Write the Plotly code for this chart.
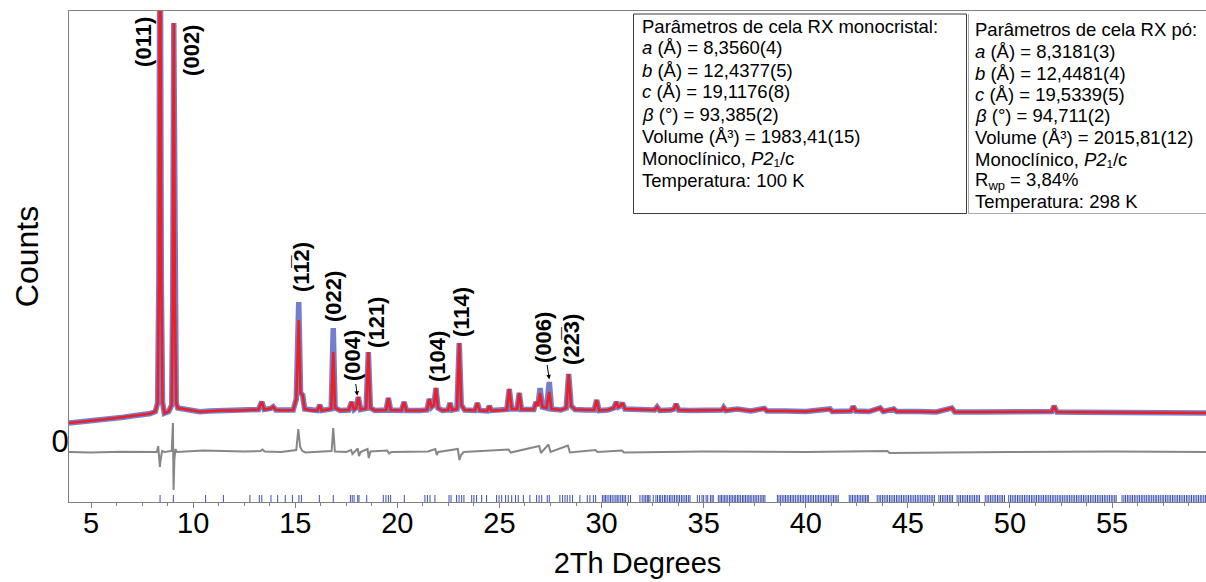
import plotly.graph_objects as go

# ---------------- data ----------------
two_theta = [3.92, 4.5, 5.0, 5.6, 6.0, 6.6, 7.0, 7.5, 7.9, 8.15, 8.26, 8.32, 8.38, 8.44, 8.50, 8.59,
             8.80, 8.95, 9.00, 9.05, 9.11, 9.17, 9.25, 9.6, 10.0, 10.33, 10.8, 11.5, 12.2, 12.8,
             13.2, 13.36, 13.48, 13.8, 13.92, 14.05, 14.5, 14.9, 15.05, 15.17, 15.26, 15.36, 15.46,
             15.8, 16.08, 16.2, 16.3, 16.76, 16.86, 16.95, 17.2, 17.62, 17.76, 17.88, 17.98, 18.09,
             18.2, 18.47, 18.58, 18.68, 18.9, 19.45, 19.56, 19.67, 20.2, 20.33, 20.44, 21.1, 21.45,
             21.56, 21.68, 21.79, 21.89, 21.99, 22.2, 22.48, 22.58, 22.68, 22.92, 23.03, 23.13, 23.3,
             23.8, 23.92, 24.03, 24.4, 24.5, 24.6, 25.0, 25.36, 25.48, 25.6, 25.86, 25.97, 26.08,
             26.68, 26.79, 26.88, 26.99, 27.1, 27.3, 27.44, 27.55, 28.0, 28.27, 28.39, 28.51, 28.7,
             29.2, 29.64, 29.76, 29.88, 30.3, 30.6, 30.72, 30.82, 30.92, 31.02, 31.15, 31.6, 32.0,
             32.6, 32.72, 32.85, 33.4, 33.55, 33.65, 33.78, 34.3, 35.0, 35.9, 35.98, 36.08, 36.65,
             37.3, 37.97, 38.1, 39.0, 40.0, 41.19, 41.3, 42.2, 42.32, 42.45, 43.1, 43.64, 43.8,
             44.31, 44.45, 45.5, 46.4, 47.15, 47.3, 48.5, 49.5, 50.5, 51.5, 52.05, 52.16, 52.3,
             53.5, 54.5, 55.5, 56.5, 57.5, 58.5, 59.6]
calc_counts = [1800, 1900, 2050, 2150, 2250, 2380, 2500, 2620, 2750, 2950, 3800, 16000, 60000, 16000, 3900, 2780,
               2950, 3600, 14000, 41800, 13000, 3800, 3300, 3150, 3050, 2930, 3000, 3050, 3050, 3080,
               3150, 3930, 3150, 3250, 3430, 3100, 3050, 3100, 4200, 12100, 4800, 4600, 3200,
               3050, 3050, 3600, 3050, 3200, 8900, 3300, 3050, 3100, 3900, 3150, 3300, 4400,
               3150, 3250, 8900, 3300, 3050, 3100, 4300, 3100, 3050, 3900, 3050, 3050, 3100,
               4200, 3400, 3600, 5300, 3300, 3050, 3100, 3800, 3100, 3200, 9800, 3600, 3100,
               3050, 3800, 3050, 3000, 3500, 3050, 3050, 3150, 5200, 3200, 3200, 4800, 3150,
               3150, 3900, 3500, 4800, 3400, 3300, 4900, 3200, 3100, 3300, 6700, 3500, 3150,
               3100, 3100, 4100, 3050, 3100, 3300, 3900, 3400, 3500, 3800, 3200, 3150, 3100,
               3100, 3400, 3050, 3100, 3200, 3700, 3100, 3050, 3050, 3100, 3350, 3050, 3200,
               3000, 3250, 3000, 3000, 2950, 3200, 2950, 3000, 3450, 3000, 2950, 3300, 2950,
               3200, 2950, 2950, 2900, 3300, 2900, 2900, 2900, 2900, 2880, 2950, 3500, 2900,
               2880, 2870, 2850, 2850, 2840, 2830, 2800]
# observed intensities that stand above the calculated profile
obs_peak_2theta = [15.17, 16.86, 26.99, 27.44]
obs_peak_counts = [13900, 11300, 5300, 5900]

diff_2theta = [3.92, 5.0, 6.5, 7.8, 8.22, 8.29, 8.33, 8.37, 8.42, 8.48, 8.6, 8.95, 9.01, 9.04, 9.08,
               9.13, 9.2, 9.6, 10.5, 11.5, 12.5, 13.3, 13.4, 13.5, 14.3, 15.05, 15.15, 15.24, 15.35,
               15.5, 16.2, 16.78, 16.86, 16.94, 17.5, 17.74, 17.8, 18.06, 18.12, 18.2, 18.54, 18.6,
               18.68, 19.5, 19.6, 19.7, 21.5, 21.86, 21.93, 22.0, 22.96, 23.04, 23.12, 23.25, 25.45,
               25.55, 26.95, 27.03, 27.4, 27.5, 28.35, 28.45, 29.7, 29.8, 31.0, 31.1, 35.0, 40.0,
               44.0, 44.1, 50.0, 55.0, 59.6]
diff_counts = [-1100, -1150, -1080, -1050, -1100, -500, -1900, -2600, -1700, -1000, -1100, -1000, 1800, -4900, -1900,
               -800, -1100, -1050, -950, -1000, -1050, -1000, -850, -1050, -1100, -900, 1200, -600, -1000,
               -1150, -1050, -1000, 1300, -1050, -1100, -900, -1300, -750, -1500, -1100, -800, -1700,
               -1050, -950, -1250, -1100, -1050, -800, -1400, -1100, -800, -1900, -1400, -1100, -850,
               -1150, -500, -1200, -350, -1100, -450, -1150, -900, -1100, -950, -1150, -1050, -1100,
               -1000, -1200, -1100, -1050, -1100]

hkl_positions = [
    8.38, 9.03, 10.61, 11.48, 12.78, 13.24, 13.36, 13.81, 14.14, 14.51, 14.86, 15.18, 15.30, 16.18,
    16.86, 17.70, 17.79, 17.88, 18.06, 18.12, 18.50, 19.31, 19.44, 19.56, 19.67, 20.34, 21.35, 21.47,
    21.60, 21.84, 22.53, 22.63, 22.90, 23.02, 23.15, 23.26, 23.64, 23.75, 23.88, 24.13, 24.37, 24.86,
    24.98, 25.11, 25.30, 25.43, 25.60, 25.79, 25.92, 26.17, 26.49, 26.82, 26.94, 27.07, 27.34, 27.44,
    27.96, 28.09, 28.21, 28.32, 28.45, 28.58, 28.94, 29.30, 29.43, 29.60, 29.71, 30.04, 30.12, 30.19,
    30.27, 30.36, 30.44, 30.52, 30.61, 30.70, 30.77, 30.85, 30.94, 31.02, 31.10, 31.18, 31.31, 31.42,
    31.88, 31.99, 32.08, 32.16, 32.24, 32.29, 32.37, 32.53,
    32.66, 32.74, 32.83, 32.90, 32.99, 33.08, 33.15, 33.24, 33.33, 33.40, 33.49, 33.57, 33.66, 33.74,
    33.82, 33.91, 33.99, 34.08, 34.16, 34.25, 34.33,
    34.69, 34.80, 34.92, 35.00, 35.12, 35.20, 35.33, 35.41, 35.47,
    35.72, 35.80, 35.87, 35.95, 36.03, 36.10, 36.18, 36.27, 36.34, 36.42, 36.50, 36.57, 36.66, 36.73,
    36.81, 36.90, 36.97, 37.05, 37.13, 37.21, 37.28, 37.36, 37.45, 37.52, 37.60, 37.68, 37.77, 37.85,
    37.92, 38.00,
    38.61, 38.69, 38.77, 38.85, 38.93, 39.01, 39.09, 39.17, 39.25, 39.33, 39.41, 39.49, 39.58, 39.66,
    39.74, 39.82, 39.90, 39.98, 40.06, 40.14, 40.22, 40.30, 40.38, 40.47, 40.55, 40.63, 40.71, 40.79,
    40.87, 40.95, 41.03, 41.11, 41.19, 41.28, 41.36, 41.44, 41.52, 41.59,
    42.13, 42.21, 42.29, 42.37, 42.45, 42.53, 42.61, 42.69, 42.77, 42.85, 42.93, 43.01, 43.06,
    43.50, 43.59, 43.67, 43.76, 43.84, 43.93, 44.01, 44.10, 44.18, 44.27, 44.35, 44.44, 44.52, 44.61,
    44.69, 44.78, 44.86, 44.95, 45.03, 45.12, 45.20, 45.29, 45.37, 45.46, 45.54, 45.63, 45.71, 45.80,
    45.88, 45.97, 46.05, 46.14, 46.22, 46.30,
    46.52, 46.60, 46.69, 46.77, 46.86, 46.94, 47.03, 47.11, 47.19,
    47.41, 47.50, 47.58, 47.67, 47.75, 47.84, 47.92, 48.01, 48.09, 48.18, 48.26, 48.35, 48.43, 48.51,
    48.79, 48.88, 48.96, 49.05, 49.13, 49.22, 49.30, 49.39, 49.47, 49.56, 49.64, 49.73,
    49.94, 50.03, 50.11, 50.20, 50.28, 50.37, 50.45, 50.54, 50.62, 50.71, 50.79, 50.88, 50.96, 51.05,
    51.13, 51.22, 51.30, 51.39, 51.47, 51.56, 51.64, 51.73, 51.81, 51.90, 51.98, 52.07, 52.15, 52.24,
    52.32, 52.41, 52.49, 52.58, 52.66, 52.75, 52.83, 52.92, 53.00, 53.09, 53.17, 53.26, 53.34, 53.43,
    53.51, 53.60, 53.68, 53.77, 53.85, 53.94, 54.02, 54.11, 54.19, 54.28, 54.36, 54.45, 54.53, 54.62,
    54.70, 54.79, 54.87, 54.96, 55.04, 55.13, 55.20,
    55.49, 55.58, 55.66, 55.75, 55.83, 55.92, 56.00, 56.09, 56.17, 56.26, 56.34, 56.43, 56.51, 56.60,
    56.68, 56.77, 56.85, 56.94, 57.02, 57.11, 57.19, 57.28, 57.36, 57.45, 57.53, 57.62, 57.70, 57.79,
    57.87, 57.96, 58.04, 58.13, 58.21, 58.30, 58.38, 58.47, 58.55, 58.64, 58.72, 58.81, 58.89, 58.98,
    59.06, 59.15, 59.23, 59.32, 59.40, 59.49, 59.57]

x_tick_values = [5, 10, 15, 20, 25, 30, 35, 40, 45, 50, 55]
x_tick_labels = ["5", "10", "15", "20", "25", "30", "35", "40", "45", "50", "55"]
y_tick_values = [0]
y_tick_labels = ["0"]

peak_labels = ["(011)", "(002)", "(11\u03052)", "(022)", "(004)", "(121)", "(104)", "(114)",
               "(006)", "(22\u03053)"]

box_mono_lines = [
    "Parâmetros de cela RX monocristal:",
    "<i>a</i> (Å) = 8,3560(4)",
    "<i>b</i> (Å) = 12,4377(5)",
    "<i>c</i> (Å) = 19,1176(8)",
    "<i>β</i> (°) = 93,385(2)",
    "Volume (Å\u00b3) = 1983,41(15)",
    "Monoclínico, <i>P2</i>\u2081/c",
    "Temperatura: 100 K",
]
box_powder_lines = [
    "Parâmetros de cela RX pó:",
    "<i>a</i> (Å) = 8,3181(3)",
    "<i>b</i> (Å) = 12,4481(4)",
    "<i>c</i> (Å) = 19,5339(5)",
    "<i>β</i> (°) = 94,711(2)",
    "Volume (Å\u00b3) = 2015,81(12)",
    "Monoclínico, <i>P2</i>\u2081/c",
    "R<sub>wp</sub> = 3,84%",
    "Temperatura: 298 K",
]

# ---------------- layout constants ----------------
W, H = 1206, 582
ML, MR, MT, MB = 69, 0, 11, 80
X_RANGE = [3.92, 59.6]
Y_RANGE = [-6100, 43000]
TICK_TOP, TICK_BOTTOM = -5400, -6100
FONT = "Liberation Sans, Arial, Helvetica, sans-serif"
RED = "rgb(240,30,35)"
BLUE = "rgba(50,65,180,0.68)"
GREY = "rgb(135,135,135)"
AXIS_GREY = "rgb(128,128,128)"

# label placement (data coords of label centres); labels with an arrow point at a peak
label_pos = [(7.54, 39900), (9.89, 39100), (15.28, 17400), (16.85, 14400), (17.78, 8500),
             (18.95, 11900), (21.94, 8500), (23.12, 12900), (27.13, 10400), (28.50, 10200)]
arrow_heads = {"(004)": (18.04, 4530), "(006)": (27.44, 6170)}

# observed profile = calculated profile except where observation stands above it
obs_counts = list(calc_counts)
for xp, cp in zip(obs_peak_2theta, obs_peak_counts):
    obs_counts[two_theta.index(xp)] = cp

tick_x, tick_y = [], []
for p in hkl_positions:
    tick_x += [p, p, None]
    tick_y += [TICK_TOP, TICK_BOTTOM, None]

fig = go.Figure()
fig.add_trace(go.Scatter(x=two_theta, y=obs_counts, mode="lines",
                         line=dict(color=BLUE, width=5.5), hoverinfo="skip", name="Yobs"))
fig.add_trace(go.Scatter(x=two_theta, y=calc_counts, mode="lines",
                         line=dict(color=RED, width=2.6), name="Ycalc"))
fig.add_trace(go.Scatter(x=diff_2theta, y=diff_counts, mode="lines",
                         line=dict(color=GREY, width=2), name="Diff"))
fig.add_trace(go.Scatter(x=tick_x, y=tick_y, mode="lines",
                         line=dict(color="rgb(60,80,175)", width=1), name="hkl"))

annotations = []
for txt, (lx, ly) in zip(peak_labels, label_pos):
    font = dict(family=FONT, size=22, color="black", weight="bold")
    if txt in arrow_heads:
        hx, hy = arrow_heads[txt]
        annotations.append(dict(x=hx, y=hy, ax=lx, ay=ly, xref="x", yref="y", axref="x",
                                ayref="y", text=txt, textangle=-90, showarrow=True,
                                arrowhead=2, arrowsize=0.9, arrowwidth=1, arrowcolor="black",
                                standoff=0, startstandoff=1, font=font))
    else:
        annotations.append(dict(x=lx, y=ly, xref="x", yref="y", text=txt, textangle=-90,
                                showarrow=False, font=font))


def px_to_paper_x(px):
    return (px - ML) / (W - ML - MR)


def py_to_paper_y(py):
    return (H - MB - py) / (H - MT - MB)


for i, line in enumerate(box_mono_lines):
    annotations.append(dict(x=px_to_paper_x(640), y=py_to_paper_y(26 + 22 * i), xref="paper",
                            yref="paper", text=line, showarrow=False, xanchor="left",
                            yanchor="middle", font=dict(family=FONT, size=18.5, color="black")))
for i, line in enumerate(box_powder_lines):
    annotations.append(dict(x=px_to_paper_x(973), y=py_to_paper_y(30 + 21.5 * i), xref="paper",
                            yref="paper", text=line, showarrow=False, xanchor="left",
                            yanchor="middle", font=dict(family=FONT, size=18.5, color="black")))

shapes = [
    dict(type="rect", xref="paper", yref="paper", x0=px_to_paper_x(633.5), x1=px_to_paper_x(966.5),
         y0=py_to_paper_y(213.5), y1=py_to_paper_y(14), line=dict(color="rgb(60,60,60)", width=1)),
    dict(type="line", xref="paper", yref="paper", x0=px_to_paper_x(968.5), x1=px_to_paper_x(968.5),
         y0=py_to_paper_y(213.5), y1=py_to_paper_y(14), line=dict(color="rgb(170,170,170)", width=1)),
    dict(type="line", xref="paper", yref="paper", x0=px_to_paper_x(968.5), x1=1,
         y0=py_to_paper_y(213.5), y1=py_to_paper_y(213.5), line=dict(color="rgb(170,170,170)", width=1)),
]

fig.update_layout(
    width=W, height=H, margin=dict(l=ML, r=MR, t=MT, b=MB, pad=0),
    plot_bgcolor="white", paper_bgcolor="white", showlegend=False,
    font=dict(family=FONT, color="black"),
    annotations=annotations, shapes=shapes,
    xaxis=dict(range=X_RANGE, showline=True, linecolor=AXIS_GREY, linewidth=1, mirror=True,
               showgrid=False, zeroline=False, ticks="outside", ticklen=5, tickcolor=AXIS_GREY,
               tickvals=x_tick_values, ticktext=x_tick_labels, ticklabelstandoff=-10,
               tickfont=dict(family=FONT, size=29, color="black"),
               minor=dict(ticks="outside", ticklen=3, tickcolor=AXIS_GREY, dtick=1.25, tick0=5,
                          showgrid=False),
               title=dict(text="2Th Degrees", font=dict(family=FONT, size=29, color="black"),
                          standoff=14)),
    yaxis=dict(range=Y_RANGE, showline=True, linecolor=AXIS_GREY, linewidth=1, showgrid=False,
               zeroline=False, ticks="", tickvals=y_tick_values, ticktext=y_tick_labels,
               ticklabelstandoff=-7,
               tickfont=dict(family=FONT, size=31, color="black"),
               title=dict(text="Counts", font=dict(family=FONT, size=32, color="black"),
                          standoff=3)),
)

fig.write_html("out.html")
